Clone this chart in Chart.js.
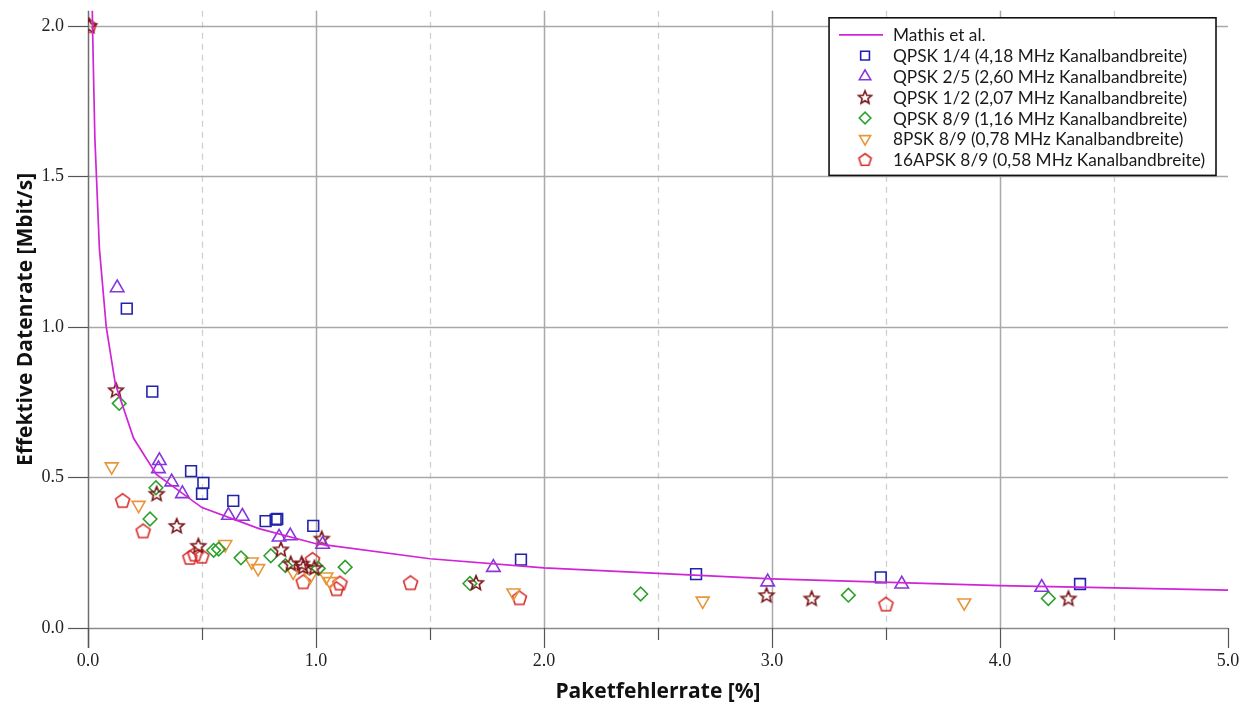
<!DOCTYPE html>
<html>
<head>
<meta charset="utf-8">
<script src="https://cdn.jsdelivr.net/npm/chart.js@4.4.0/dist/chart.umd.min.js"></script>
<style>
  html, body { margin: 0; padding: 0; background: #ffffff; }
  canvas { display: block; }
</style>
</head>
<body>
<canvas id="c" width="1255" height="708"></canvas>
<script>
// ---- data -------------------------------------------------------------
// Mathis et al. model curve (packet error rate [%] -> throughput [Mbit/s])
const mathisX = [0.015, 0.02, 0.03, 0.05, 0.08, 0.12, 0.2, 0.3, 0.5, 0.75, 1.0, 1.5, 2.0, 3.0, 4.0, 5.0];
const mathisY = [2.30, 1.99, 1.63, 1.26, 1.00, 0.81, 0.63, 0.51, 0.40, 0.33, 0.28, 0.23, 0.20, 0.163, 0.141, 0.126];

// QPSK 1/4 (4,18 MHz)
const qpsk14X = [0.170, 0.282, 0.452, 0.506, 0.500, 0.637, 0.779, 0.823, 0.830, 0.988, 1.899, 2.667, 3.477, 4.351];
const qpsk14Y = [1.061, 0.785, 0.521, 0.482, 0.446, 0.422, 0.355, 0.360, 0.362, 0.339, 0.227, 0.179, 0.168, 0.146];

// QPSK 2/5 (2,60 MHz)
const qpsk25X = [0.128, 0.313, 0.309, 0.367, 0.414, 0.616, 0.677, 0.838, 0.887, 1.029, 1.778, 2.981, 3.569, 4.183];
const qpsk25Y = [1.130, 0.556, 0.529, 0.485, 0.446, 0.374, 0.371, 0.302, 0.306, 0.278, 0.201, 0.153, 0.146, 0.135];

// QPSK 1/2 (2,07 MHz)
const qpsk12X = [0.005, 0.123, 0.301, 0.389, 0.484, 0.846, 0.889, 0.937, 0.944, 0.993, 1.025, 1.702, 2.976, 3.174, 4.300];
const qpsk12Y = [2.000, 0.790, 0.446, 0.339, 0.273, 0.261, 0.214, 0.214, 0.203, 0.200, 0.297, 0.150, 0.109, 0.098, 0.098];

// QPSK 8/9 (1,16 MHz)
const qpsk89X = [0.137, 0.298, 0.272, 0.551, 0.573, 0.671, 0.802, 0.866, 1.010, 1.128, 1.675, 2.424, 3.335, 4.212];
const qpsk89Y = [0.746, 0.466, 0.362, 0.258, 0.262, 0.233, 0.240, 0.207, 0.198, 0.202, 0.148, 0.113, 0.109, 0.098];

// 8PSK 8/9 (0,78 MHz)
const psk889X = [0.104, 0.222, 0.602, 0.718, 0.746, 0.900, 0.975, 1.045, 1.061, 1.866, 2.696, 3.843];
const psk889Y = [0.536, 0.408, 0.278, 0.220, 0.198, 0.186, 0.172, 0.170, 0.155, 0.117, 0.090, 0.084];

// 16APSK 8/9 (0,58 MHz)
const apsk89X = [0.005, 0.152, 0.242, 0.447, 0.469, 0.499, 0.944, 0.985, 1.090, 1.105, 1.415, 1.892, 3.500];
const apsk89Y = [2.000, 0.423, 0.322, 0.234, 0.245, 0.238, 0.153, 0.227, 0.130, 0.149, 0.150, 0.100, 0.079];

const seriesLabels = [
  'Mathis et al.',
  'QPSK 1/4 (4,18 MHz Kanalbandbreite)',
  'QPSK 2/5 (2,60 MHz Kanalbandbreite)',
  'QPSK 1/2 (2,07 MHz Kanalbandbreite)',
  'QPSK 8/9 (1,16 MHz Kanalbandbreite)',
  '8PSK 8/9 (0,78 MHz Kanalbandbreite)',
  '16APSK 8/9 (0,58 MHz Kanalbandbreite)'
];

const xTickValues = [0, 0.5, 1, 1.5, 2, 2.5, 3, 3.5, 4, 4.5, 5];
const yTickValues = [0, 0.5, 1, 1.5, 2];
const xTitle = 'Paketfehlerrate [%]';
const yTitle = 'Effektive Datenrate [Mbit/s]';

// ---- styling ----------------------------------------------------------
const COLORS = {
  mathis: 'rgb(208,36,214)',
  qpsk14: '#2222aa',
  qpsk25: '#8636dc',
  qpsk12: '#7a1518',
  qpsk89: '#2ea02e',
  psk889: '#e8963a',
  apsk89: '#d82a2a'
};
const SANS = 'Lato, "Noto Sans", "DejaVu Sans", sans-serif';
const TITLE_SANS = '"Open Sans", "Noto Sans", "DejaVu Sans", sans-serif';
const SERIF = '"Liberation Serif", "DejaVu Serif", serif';

function pairs(xs, ys) { return xs.map((x, i) => ({ x: x, y: ys[i] })); }

// hollow five-pointed star marker
function starMarker(color, r) {
  const s = Math.ceil(2 * r + 4), c = document.createElement('canvas');
  c.width = s; c.height = s;
  const g = c.getContext('2d'), cx = s / 2, cy = s / 2 + 0.5, ri = r * 0.45;
  g.beginPath();
  for (let i = 0; i < 10; i++) {
    const a = -Math.PI / 2 + i * Math.PI / 5, rr = i % 2 ? ri : r;
    const px = cx + rr * Math.cos(a), py = cy + rr * Math.sin(a);
    i ? g.lineTo(px, py) : g.moveTo(px, py);
  }
  g.closePath(); g.strokeStyle = color; g.lineWidth = 1.6; g.lineJoin = 'miter'; g.stroke();
  return c;
}
// hollow pentagon marker
function pentagonMarker(color, r) {
  const s = Math.ceil(2 * r + 4), c = document.createElement('canvas');
  c.width = s; c.height = s;
  const g = c.getContext('2d'), cx = s / 2, cy = s / 2 + 0.5;
  g.beginPath();
  for (let i = 0; i < 5; i++) {
    const a = -Math.PI / 2 + i * 2 * Math.PI / 5;
    const px = cx + r * Math.cos(a), py = cy + r * Math.sin(a);
    i ? g.lineTo(px, py) : g.moveTo(px, py);
  }
  g.closePath(); g.strokeStyle = color; g.lineWidth = 1.6; g.stroke();
  return c;
}

const starImg = starMarker(COLORS.qpsk12, 7.6);
const pentImg = pentagonMarker(COLORS.apsk89, 7.4);
const starLegend = starMarker(COLORS.qpsk12, 6.8);
const pentLegend = pentagonMarker(COLORS.apsk89, 6.5);

function scatterSet(label, data, color, style, radius, rotation) {
  return {
    label: label, data: data, showLine: false,
    pointStyle: style, pointRadius: radius, pointHoverRadius: radius,
    pointRotation: rotation || 0,
    pointBorderColor: color, pointBackgroundColor: 'rgba(0,0,0,0)',
    pointBorderWidth: 1.6, borderColor: color, backgroundColor: 'rgba(0,0,0,0)'
  };
}

const datasets = [
  {
    label: seriesLabels[0], data: pairs(mathisX, mathisY), showLine: true,
    borderColor: COLORS.mathis, borderWidth: 1.7, pointRadius: 0, tension: 0, fill: false
  },
  scatterSet(seriesLabels[1], pairs(qpsk14X, qpsk14Y), COLORS.qpsk14, 'rect', 7.6),
  scatterSet(seriesLabels[2], pairs(qpsk25X, qpsk25Y), COLORS.qpsk25, 'triangle', 7.8),
  scatterSet(seriesLabels[3], pairs(qpsk12X, qpsk12Y), COLORS.qpsk12, starImg, 7.6),
  scatterSet(seriesLabels[4], pairs(qpsk89X, qpsk89Y), COLORS.qpsk89, 'rectRot', 6.8),
  scatterSet(seriesLabels[5], pairs(psk889X, psk889Y), COLORS.psk889, 'triangle', 7.5, 180),
  scatterSet(seriesLabels[6], pairs(apsk89X, apsk89Y), COLORS.apsk89, pentImg, 7.4)
];

const legendMarkers = [
  null,
  { pointStyle: 'rect', radius: 6.2, rotation: 0 },
  { pointStyle: 'triangle', radius: 6.6, rotation: 0 },
  { pointStyle: starLegend, radius: 6.8, rotation: 0 },
  { pointStyle: 'rectRot', radius: 5.8, rotation: 0 },
  { pointStyle: 'triangle', radius: 6.4, rotation: 180 },
  { pointStyle: pentLegend, radius: 6.5, rotation: 0 }
];

// ---- grid, axis lines and tick marks ----------------------------------
const gridPlugin = {
  id: 'plotGrid',
  beforeDatasetsDraw(chart) {
    const { ctx, chartArea: a, scales: { x, y } } = chart;
    ctx.save();
    // dashed half-unit verticals
    ctx.strokeStyle = '#cfcfcf'; ctx.lineWidth = 1.3; ctx.setLineDash([6, 5]);
    xTickValues.filter(v => !Number.isInteger(v)).forEach(v => {
      const px = Math.round(x.getPixelForValue(v)) + 0.5;
      ctx.beginPath(); ctx.moveTo(px, a.top); ctx.lineTo(px, a.bottom); ctx.stroke();
    });
    ctx.setLineDash([]);
    // solid integer verticals
    ctx.strokeStyle = '#a9a9a9'; ctx.lineWidth = 1.5;
    xTickValues.filter(v => Number.isInteger(v) && v > 0 && v < 5).forEach(v => {
      const px = Math.round(x.getPixelForValue(v)) + 0.5;
      ctx.beginPath(); ctx.moveTo(px, a.top); ctx.lineTo(px, a.bottom); ctx.stroke();
    });
    // horizontals
    yTickValues.filter(v => v > 0).forEach(v => {
      const py = Math.round(y.getPixelForValue(v)) + 0.5;
      ctx.beginPath(); ctx.moveTo(a.left, py); ctx.lineTo(a.right, py); ctx.stroke();
    });
    // x axis line
    const y0 = Math.round(y.getPixelForValue(0)) + 0.5;
    ctx.strokeStyle = '#8a8a8a'; ctx.lineWidth = 1.5;
    ctx.beginPath(); ctx.moveTo(a.left, y0); ctx.lineTo(a.right, y0); ctx.stroke();
    // y axis line (runs down as the 0.0 tick)
    const x0 = Math.round(x.getPixelForValue(0)) + 0.5;
    ctx.strokeStyle = '#6e6e6e';
    ctx.beginPath(); ctx.moveTo(x0, a.top); ctx.lineTo(x0, a.bottom + 20); ctx.stroke();
    // tick marks
    ctx.strokeStyle = '#555555'; ctx.lineWidth = 1.2;
    xTickValues.forEach(v => {
      const px = Math.round(x.getPixelForValue(v)) + 0.5;
      const len = Number.isInteger(v) ? 20 : 12;
      ctx.beginPath(); ctx.moveTo(px, a.bottom); ctx.lineTo(px, a.bottom + len); ctx.stroke();
    });
    yTickValues.forEach(v => {
      const py = Math.round(y.getPixelForValue(v)) + 0.5;
      ctx.beginPath(); ctx.moveTo(a.left - 20, py); ctx.lineTo(a.left, py); ctx.stroke();
    });
    ctx.restore();
  }
};

// ---- boxed legend inside the plot -------------------------------------
const legendPlugin = {
  id: 'boxLegend',
  afterDatasetsDraw(chart) {
    const { ctx, chartArea: a } = chart;
    const right = a.right - 12, top = a.top + 7;
    const rowH = 20.8, textX = 64, textTarget = 312;
    ctx.save();
    ctx.font = '16px ' + SANS;
    const base = Math.max(...seriesLabels.map(t => ctx.measureText(t).width));
    const fontPx = 16 * textTarget / base;
    ctx.font = fontPx.toFixed(2) + 'px ' + SANS;
    const textW = Math.max(...seriesLabels.map(t => ctx.measureText(t).width));
    const w = textX + textW + 11, h = rowH * seriesLabels.length + 12;
    const left = right - w;
    ctx.fillStyle = '#ffffff';
    ctx.fillRect(left, top, w, h);
    ctx.strokeStyle = '#111111'; ctx.lineWidth = 1.6;
    ctx.strokeRect(left, top, w, h);
    seriesLabels.forEach((t, i) => {
      const cy = top + 17 + i * rowH;
      if (i === 0) {
        ctx.strokeStyle = COLORS.mathis; ctx.lineWidth = 1.7;
        ctx.beginPath(); ctx.moveTo(left + 10, cy); ctx.lineTo(left + 54, cy); ctx.stroke();
      } else {
        const m = legendMarkers[i], ds = datasets[i];
        ctx.strokeStyle = ds.pointBorderColor; ctx.fillStyle = 'rgba(0,0,0,0)'; ctx.lineWidth = 1.6;
        Chart.helpers.drawPoint(ctx, { pointStyle: m.pointStyle, radius: m.radius, rotation: m.rotation, borderWidth: 1.6 }, left + 36, cy);
      }
      ctx.fillStyle = '#1a1a1a'; ctx.textBaseline = 'middle'; ctx.textAlign = 'left';
      ctx.fillText(t, left + textX, cy + 1);
    });
    ctx.restore();
  }
};

const tickFont = { family: SERIF, size: 18 };
const titleFont = { family: TITLE_SANS, size: 21, weight: 'bold' };
// invisible grid: only reserves the tick-mark length before the labels
const hiddenGrid = len => ({ display: true, drawOnChartArea: false, drawTicks: true, tickLength: len, color: 'rgba(0,0,0,0)' });

new Chart(document.getElementById('c'), {
  type: 'scatter',
  data: { datasets: datasets },
  options: {
    responsive: false,
    animation: false,
    events: [],
    layout: { padding: { left: 0, right: 27, top: 9, bottom: 0 } },
    plugins: { legend: { display: false }, tooltip: { enabled: false } },
    scales: {
      x: {
        type: 'linear', min: 0, max: 5,
        afterBuildTicks: s => { s.ticks = xTickValues.map(v => ({ value: v })); },
        afterFit: s => { s.height = 80; },
        grid: hiddenGrid(22),
        border: { display: false },
        ticks: {
          autoSkip: false, maxRotation: 0, padding: 0, color: '#222222', font: tickFont,
          callback: v => Number.isInteger(v) ? v.toFixed(1) : ''
        },
        title: { display: true, text: xTitle, color: '#111111', font: titleFont, padding: { top: 0, bottom: 3 } }
      },
      y: {
        type: 'linear', min: 0, max: 2.05,
        afterBuildTicks: s => { s.ticks = yTickValues.map(v => ({ value: v })); },
        afterFit: s => { s.width = 88; },
        grid: hiddenGrid(24),
        border: { display: false },
        ticks: { padding: 0, color: '#222222', font: tickFont, callback: v => v.toFixed(1) },
        title: { display: true, text: yTitle, color: '#111111', font: titleFont, padding: { top: 13, bottom: 0 } }
      }
    }
  },
  plugins: [gridPlugin, legendPlugin]
});
</script>
</body>
</html>
